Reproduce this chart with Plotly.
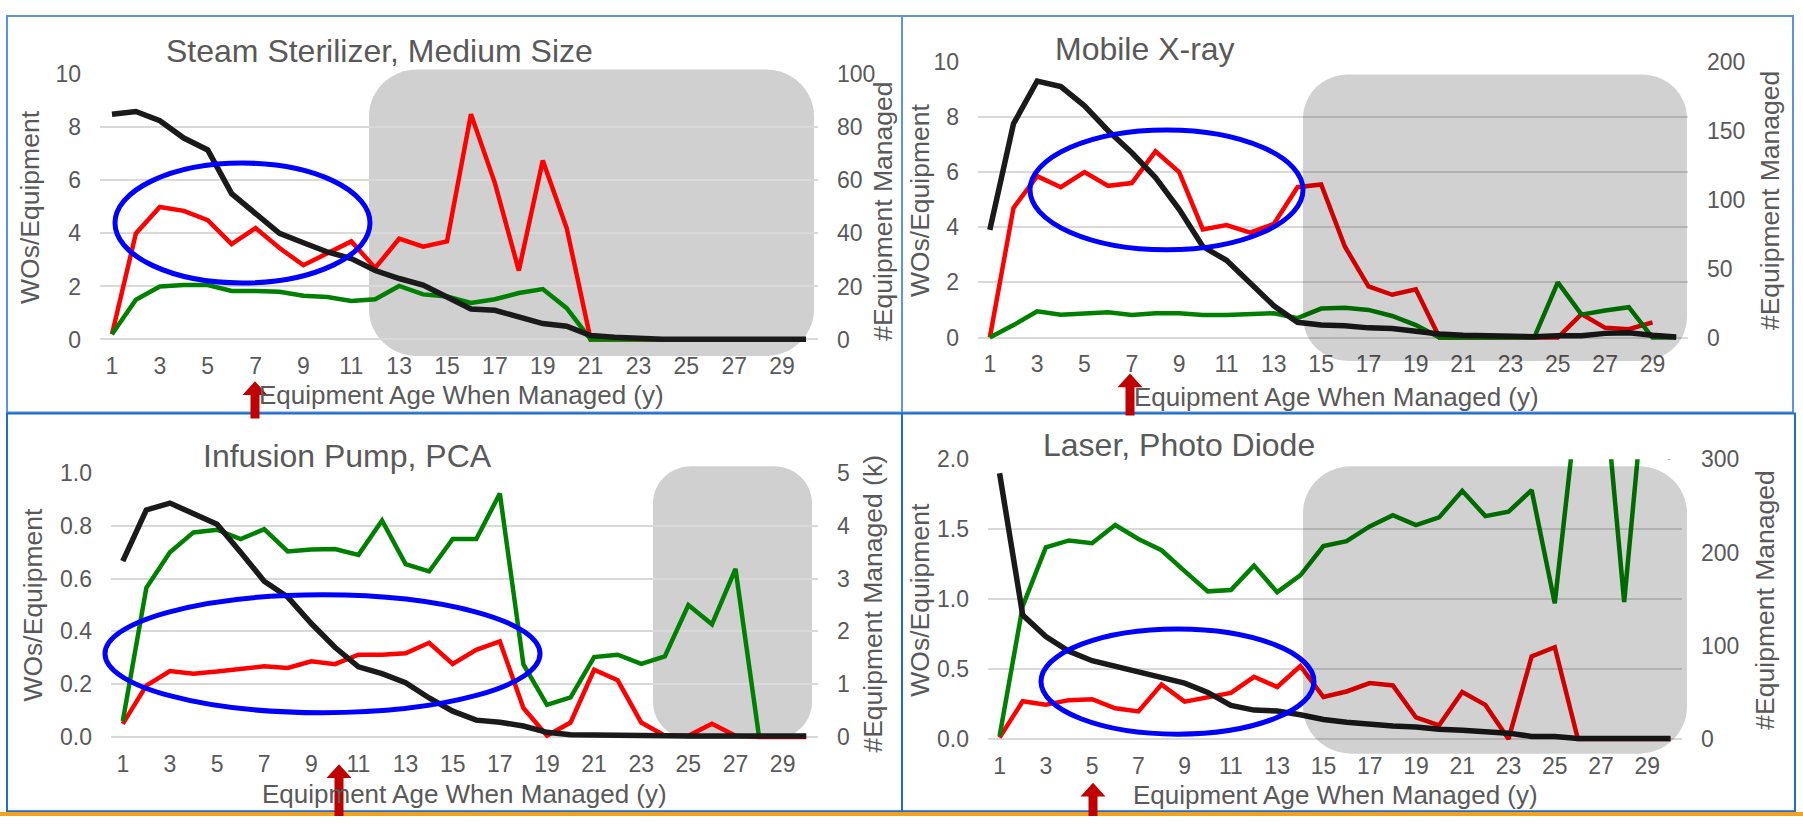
import plotly.graph_objects as go

W, H = 1803, 824

# ---------------- data ----------------
AGES = list(range(1, 31))
X_TICKS = list(range(1, 30, 2))

X_TITLE = "Equipment Age When Managed (y)"
LEFT_TITLE = "WOs/Equipment"
RIGHT_TITLE = "#Equipment Managed"
RIGHT_TITLE_K = "#Equipment Managed (k)"

STEAM_TITLE = "Steam Sterilizer, Medium Size"
STEAM_RED = [0.2, 4.0, 5.0, 4.85, 4.5, 3.6, 4.2, 3.45, 2.8, 3.25, 3.7, 2.7, 3.8, 3.5, 3.7,
             8.5, 5.9, 2.6, 6.75, 4.2, 0, 0, 0, 0, 0, 0, 0, 0, 0, 0]
STEAM_GREEN = [0.2, 1.5, 2.0, 2.05, 2.05, 1.83, 1.83, 1.8, 1.65, 1.6, 1.45, 1.52, 2.02, 1.7, 1.62,
               1.38, 1.52, 1.75, 1.9, 1.18, 0, 0, 0, 0, 0, 0, 0, 0, 0, 0]
STEAM_COUNT = [85, 86, 82.5, 76, 71.5, 55, 47.5, 40, 36.5, 33, 30.5, 26, 23, 20.5, 16,
               11.5, 11, 8.5, 6, 5, 1.5, 0.8, 0.3, 0.1, 0.1, 0.1, 0.1, 0.1, 0.1, 0.1]

XRAY_TITLE = "Mobile X-ray"
XRAY_RED = [0, 4.7, 5.85, 5.45, 6.0, 5.5, 5.6, 6.75, 6.0, 3.92, 4.08, 3.8, 4.12, 5.45, 5.55,
            3.3, 1.85, 1.55, 1.75, 0, 0, 0, 0, 0, 0, 0.85, 0.35, 0.3, 0.55, None]
XRAY_GREEN = [0, 0.45, 0.95, 0.83, 0.87, 0.92, 0.82, 0.88, 0.88, 0.82, 0.82, 0.86, 0.88, 0.7, 1.05,
              1.08, 1.0, 0.78, 0.45, 0, 0, 0, 0, 0, 2.0, 0.83, 0.98, 1.1, 0, 0]
XRAY_COUNT = [78, 155, 186, 182, 168, 150, 134, 116, 93, 66, 56, 40, 23, 11, 9,
              8.5, 7, 6.5, 4, 2.5, 1.6, 1, 0.5, 0.6, 1.2, 1.2, 3, 3.4, 1.6, 0.4]

PCA_TITLE = "Infusion Pump, PCA"
PCA_RED = [0.05, 0.195, 0.25, 0.24, 0.248, 0.257, 0.268, 0.262, 0.287, 0.276, 0.312, 0.312, 0.317,
           0.357, 0.277, 0.33, 0.362, 0.11, 0.005, 0.055, 0.255, 0.215, 0.055, 0.005, 0.005,
           0.05, 0.005, 0, 0, 0]
PCA_GREEN = [0.06, 0.565, 0.70, 0.775, 0.785, 0.75, 0.787, 0.703, 0.71, 0.712, 0.69, 0.82, 0.655,
             0.627, 0.75, 0.75, 0.922, 0.275, 0.122, 0.15, 0.303, 0.312, 0.277, 0.305, 0.50,
             0.427, 0.637, 0, None, None]
PCA_COUNT_K = [3.33, 4.3, 4.43, 4.22, 4.03, 3.5, 2.95, 2.65, 2.15, 1.7, 1.33, 1.2, 1.03, 0.74,
               0.49, 0.32, 0.28, 0.21, 0.09, 0.045, 0.035, 0.03, 0.025, 0.02, 0.02, 0.02, 0.02,
               0.02, 0.02, 0.02]

LASER_TITLE = "Laser, Photo Diode"
LASER_RED = [0.01, 0.27, 0.245, 0.278, 0.285, 0.22, 0.197, 0.39, 0.267, 0.30, 0.33, 0.445, 0.372,
             0.522, 0.30, 0.34, 0.40, 0.383, 0.155, 0.098, 0.336, 0.244, 0.0, 0.59, 0.656,
             0, 0, 0, 0, 0]
LASER_GREEN = [0.02, 0.95, 1.37, 1.42, 1.40, 1.53, 1.43, 1.35, 1.2, 1.056, 1.065, 1.24, 1.05, 1.17,
               1.38, 1.415, 1.52, 1.60, 1.53, 1.585, 1.775, 1.594, 1.625, 1.78, 0.97, 2.45, 2.8,
               0.98, 2.75, 2.0]
LASER_COUNT = [285, 133, 110, 94, 84, 78, 73, 67, 60, 50, 36, 31, 30, 26, 21, 18, 15.7, 14, 13,
               10.4, 9.4, 8, 6.3, 2.8, 2.8, 0.5, 0.5, 0.5, 0.5, 0.5]

# ---------------- styling / layout geometry (pixels) ----------------
FONT = "Liberation Sans, Arial, sans-serif"
TXT = "#595959"
RED = "#FF0000"
GREEN = "#008000"
BLACK = "#1a1a1a"

panels = [
    dict(title=STEAM_TITLE, red=STEAM_RED, green=STEAM_GREEN, count=STEAM_COUNT,
         lmax=10, ldt=2, lfmt="", rmax=100, rdt=20, rtitle=RIGHT_TITLE,
         plot=(100, 63, 818, 335), title_xy=(164, 39), yl=(30, 199), yr=(883, 204), xt=(461, 392),
         gray=(369, 58, 814, 352, 48), gray_above=False,
         ell=(115, 154, 370, 277), arrow=(255, 378, 416)),
    dict(title=XRAY_TITLE, red=XRAY_RED, green=XRAY_GREEN, count=XRAY_COUNT,
         lmax=10, ldt=2, lfmt="", rmax=200, rdt=50, rtitle=RIGHT_TITLE,
         plot=(978, 50, 1688, 333), title_xy=(1053, 37), yl=(920, 192), yr=(1770, 193), xt=(1336, 394),
         gray=(1303, 63, 1687, 357, 45), gray_above=True,
         ell=(1030, 120, 1303, 243), arrow=(1130, 370, 413)),
    dict(title=PCA_TITLE, red=PCA_RED, green=PCA_GREEN, count=PCA_COUNT_K,
         lmax=1.0, ldt=0.2, lfmt=".1f", rmax=5, rdt=1, rtitle=RIGHT_TITLE_K,
         plot=(111, 472, 818, 743), title_xy=(201, 455), yl=(33, 607), yr=(873, 606), xt=(464, 801),
         gray=(653, 465, 812, 745, 38), gray_above=False,
         ell=(105, 597, 540, 718), arrow=(339, 771, 824)),
    dict(title=LASER_TITLE, red=LASER_RED, green=LASER_GREEN, count=LASER_COUNT,
         lmax=2.0, ldt=0.5, lfmt=".1f", rmax=300, rdt=100, rtitle=RIGHT_TITLE,
         plot=(988, 458, 1682, 745), title_xy=(1041, 443), yl=(920, 602), yr=(1765, 603), xt=(1335, 802),
         gray=(1303, 465, 1687, 760, 48), gray_above=True,
         ell=(1041, 632, 1314, 740), arrow=(1093, 790, 824)),
]


def pxx(x):
    return x / W


def pyy(y):
    return 1 - y / H


def rrect_path(x0, y0, x1, y1, r):
    k = 0.5523 * r

    def P(x, y):
        return f"{pxx(x):.5f},{pyy(y):.5f}"
    return (f"M {P(x0 + r, y0)} L {P(x1 - r, y0)} "
            f"C {P(x1 - r + k, y0)} {P(x1, y0 + r - k)} {P(x1, y0 + r)} "
            f"L {P(x1, y1 - r)} "
            f"C {P(x1, y1 - r + k)} {P(x1 - r + k, y1)} {P(x1 - r, y1)} "
            f"L {P(x0 + r, y1)} "
            f"C {P(x0 + r - k, y1)} {P(x0, y1 - r + k)} {P(x0, y1 - r)} "
            f"L {P(x0, y0 + r)} "
            f"C {P(x0, y0 + r - k)} {P(x0 + r - k, y0)} {P(x0 + r, y0)} Z")


def arrow_path(x, ytip, ybot, shaft=9, headw=25, headh=14):
    pts = [(x, ytip), (x + headw / 2, ytip + headh), (x + shaft / 2, ytip + headh),
           (x + shaft / 2, ybot), (x - shaft / 2, ybot), (x - shaft / 2, ytip + headh),
           (x - headw / 2, ytip + headh)]
    return "M " + " L ".join(f"{pxx(a):.5f},{pyy(b):.5f}" for a, b in pts) + " Z"


fig = go.Figure()
layout = dict(width=W, height=H, margin=dict(l=0, r=0, t=0, b=0), autosize=False,
              paper_bgcolor="white", plot_bgcolor="rgba(0,0,0,0)", showlegend=False,
              font=dict(family=FONT, color=TXT, size=23))
shapes = []
annotations = []
PAD = 5

for i, p in enumerate(panels, start=1):
    xid = "x" if i == 1 else f"x{i}"
    yl_id = "y" if i == 1 else f"y{2 * i - 1}"
    yr_id = f"y{2 * i}"
    xkey = "xaxis" if i == 1 else f"xaxis{i}"
    ylkey = "yaxis" if i == 1 else f"yaxis{2 * i - 1}"
    yrkey = f"yaxis{2 * i}"
    L, T, R, B = p["plot"]
    span = B - T
    dom_y = [pyy(B + PAD), pyy(T)]

    fig.add_trace(go.Scatter(x=AGES, y=p["red"], xaxis=xid, yaxis=yl_id, mode="lines",
                             line=dict(color=RED, width=4.5), connectgaps=False, hoverinfo="skip"))
    fig.add_trace(go.Scatter(x=AGES, y=p["green"], xaxis=xid, yaxis=yl_id, mode="lines",
                             line=dict(color=GREEN, width=4.5), connectgaps=False, hoverinfo="skip"))
    fig.add_trace(go.Scatter(x=AGES, y=p["count"], xaxis=xid, yaxis=yr_id, mode="lines",
                             line=dict(color=BLACK, width=5.5), hoverinfo="skip"))

    layout[xkey] = dict(domain=[pxx(L), pxx(R)], range=[0.5, 30.5], anchor=yl_id,
                        tickvals=X_TICKS, ticks="", showgrid=False, zeroline=False,
                        showline=False, ticklabelstandoff=6,
                        tickfont=dict(size=23, color=TXT, family=FONT))
    nl = round(p["lmax"] / p["ldt"])
    layout[ylkey] = dict(domain=dom_y, anchor=xid,
                         range=[-PAD * p["lmax"] / span, p["lmax"]],
                         tickvals=[round(k * p["ldt"], 3) for k in range(nl + 1)],
                         tickformat=p["lfmt"], ticks="", showgrid=True, gridcolor="#D9D9D9",
                         gridwidth=2, zeroline=False, showline=False, ticklabelstandoff=18,
                         tickfont=dict(size=23, color=TXT, family=FONT))
    nr = round(p["rmax"] / p["rdt"])
    layout[yrkey] = dict(domain=dom_y, anchor=xid, overlaying=yl_id, side="right",
                         range=[-PAD * p["rmax"] / span, p["rmax"]],
                         tickvals=[k * p["rdt"] for k in range(nr + 1)],
                         ticks="", showgrid=False, zeroline=False, showline=False,
                         ticklabelstandoff=18, tickfont=dict(size=23, color=TXT, family=FONT))

    gx0, gy0, gx1, gy1, gr = p["gray"]
    if p["gray_above"]:
        shapes.append(dict(type="path", path=rrect_path(gx0, gy0, gx1, gy1, gr), xref="paper",
                           yref="paper", fillcolor="rgba(0,0,0,0.18)", line=dict(width=0),
                           layer="above"))
    else:
        shapes.append(dict(type="path", path=rrect_path(gx0, gy0, gx1, gy1, gr), xref="paper",
                           yref="paper", fillcolor="#D0D0D0", line=dict(width=0),
                           layer="below"))
    ex0, ey0, ex1, ey1 = p["ell"]
    shapes.append(dict(type="circle", xref="paper", yref="paper", x0=pxx(ex0), x1=pxx(ex1),
                       y0=pyy(ey1), y1=pyy(ey0), line=dict(color="#0000FF", width=5),
                       fillcolor="rgba(0,0,0,0)", layer="above"))

    tx, ty = p["title_xy"]
    annotations.append(dict(text=p["title"], x=pxx(tx), y=pyy(ty), xref="paper", yref="paper",
                            xanchor="left", yanchor="middle", showarrow=False,
                            font=dict(size=32, color=TXT, family=FONT)))
    annotations.append(dict(text=LEFT_TITLE, x=pxx(p["yl"][0]), y=pyy(p["yl"][1]), xref="paper",
                            yref="paper", xanchor="center", yanchor="middle", textangle=-90,
                            showarrow=False, font=dict(size=26.5, color=TXT, family=FONT)))
    annotations.append(dict(text=p["rtitle"], x=pxx(p["yr"][0]), y=pyy(p["yr"][1]), xref="paper",
                            yref="paper", xanchor="center", yanchor="middle", textangle=-90,
                            showarrow=False, font=dict(size=26.5, color=TXT, family=FONT)))
    annotations.append(dict(text=X_TITLE, x=pxx(p["xt"][0]), y=pyy(p["xt"][1]), xref="paper",
                            yref="paper", xanchor="center", yanchor="middle",
                            showarrow=False, font=dict(size=26, color=TXT, family=FONT)))

# panel borders
for (x0, y0, x1, y1, c) in [(7, 3, 902, 410, "#5B93E8"), (902, 3, 1793, 410, "#5B93E8"),
                            (7, 411, 902, 819, "#1F6FC4"), (902, 411, 1795, 819, "#1F6FC4")]:
    shapes.append(dict(type="rect", xref="paper", yref="paper", x0=pxx(x0), x1=pxx(x1),
                       y0=pyy(y1), y1=pyy(y0), line=dict(color=c, width=2),
                       fillcolor="rgba(0,0,0,0)", layer="above"))
shapes.append(dict(type="rect", xref="paper", yref="paper", x0=0, x1=1, y0=0, y1=pyy(820),
                   line=dict(width=0), fillcolor="#F4A11D", layer="above"))

# red arrows
for p in panels:
    ax, at, ab = p["arrow"]
    shapes.append(dict(type="path", path=arrow_path(ax, at, ab), xref="paper", yref="paper",
                       fillcolor="#C00000", line=dict(width=0), layer="above"))

layout["shapes"] = shapes
layout["annotations"] = annotations
fig.update_layout(**layout)

fig.write_html("out.html", config={"displayModeBar": False},
               post_script="document.body.style.margin='0';document.body.style.overflow='hidden';")
